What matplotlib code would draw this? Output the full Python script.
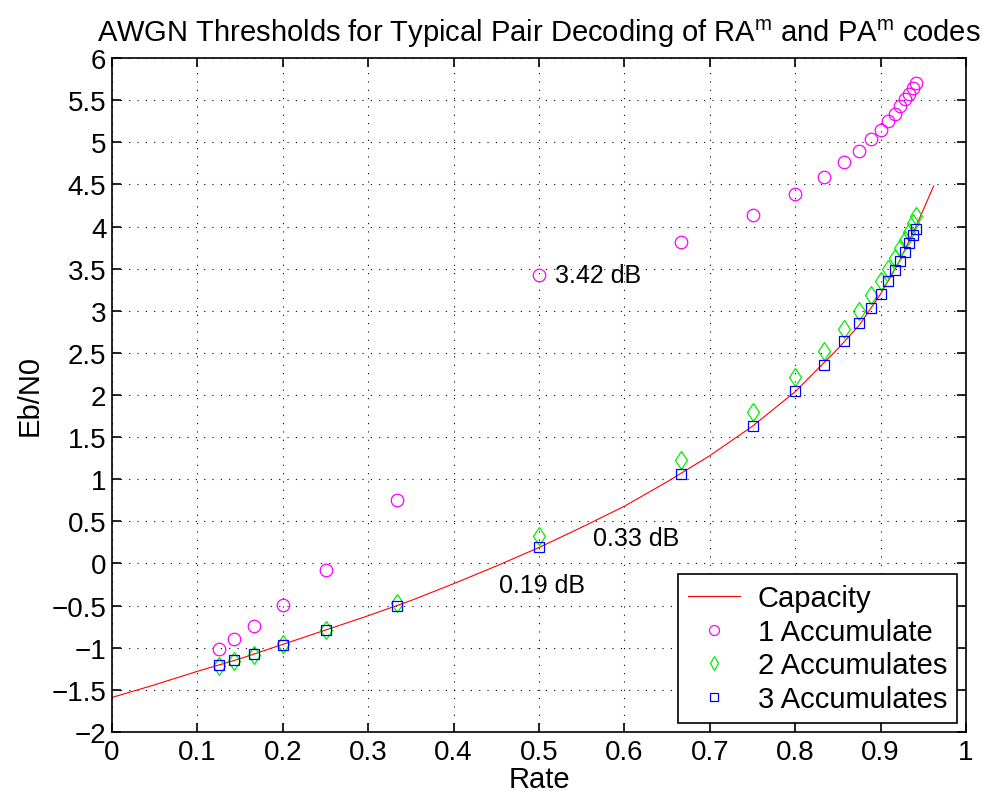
import matplotlib
matplotlib.use("Agg")
import matplotlib.pyplot as plt

plt.rcParams['font.family'] = ['Liberation Sans', 'DejaVu Sans']

rates = [1/8, 1/7, 1/6, 1/5, 1/4, 1/3, 1/2, 2/3, 3/4, 4/5, 5/6, 6/7, 7/8, 8/9,
         9/10, 10/11, 11/12, 12/13, 13/14, 14/15, 15/16, 16/17]
acc1 = [-1.02, -0.90, -0.74, -0.49, -0.08, 0.75, 3.42, 3.82, 4.14, 4.39, 4.59,
        4.76, 4.90, 5.04, 5.15, 5.25, 5.34, 5.43, 5.51, 5.57, 5.64, 5.70]
acc2 = [-1.22, -1.16, -1.09, -0.96, -0.79, -0.47, 0.33, 1.23, 1.80, 2.21, 2.52,
        2.78, 3.00, 3.19, 3.35, 3.50, 3.63, 3.74, 3.84, 3.94, 4.04, 4.13]
acc3 = [-1.21, -1.15, -1.08, -0.97, -0.79, -0.50, 0.19, 1.06, 1.63, 2.05, 2.36,
        2.64, 2.85, 3.03, 3.20, 3.35, 3.48, 3.59, 3.70, 3.80, 3.90, 3.97]

cap_rate = [0.0, 0.05, 0.1, 0.15, 0.2, 0.25, 0.3, 0.35, 0.4, 0.45, 0.5, 0.55,
            0.6, 0.65, 0.7, 0.75, 0.8, 0.85, 0.875, 0.9, 0.92, 0.94, 0.95, 0.962]
cap_ebn0 = [-1.59, -1.44, -1.28, -1.13, -0.96, -0.79, -0.62, -0.44, -0.24, -0.03,
            0.19, 0.43, 0.68, 0.97, 1.28, 1.63, 2.04, 2.55, 2.83, 3.20, 3.55,
            3.97, 4.20, 4.48]

annotations = [(0.519, 3.42, '3.42 dB'), (0.563, 0.30, '0.33 dB'), (0.453, -0.26, '0.19 dB')]

xtick_vals = [0, 0.1, 0.2, 0.3, 0.4, 0.5, 0.6, 0.7, 0.8, 0.9, 1]
xtick_labels = ['0', '0.1', '0.2', '0.3', '0.4', '0.5', '0.6', '0.7', '0.8', '0.9', '1']
ytick_vals = [-2, -1.5, -1, -0.5, 0, 0.5, 1, 1.5, 2, 2.5, 3, 3.5, 4, 4.5, 5, 5.5, 6]
ytick_labels = ['\u22122', '\u22121.5', '\u22121', '\u22120.5', '0', '0.5', '1', '1.5', '2',
                '2.5', '3', '3.5', '4', '4.5', '5', '5.5', '6']

fig = plt.figure(figsize=(9.95, 8.03), dpi=100)
ax = fig.add_axes([0.1126, 0.0872, 0.8583, 0.8393])

ax.plot(cap_rate, cap_ebn0, color='red', lw=0.8, label='Capacity')
ax.plot(rates, acc1, 'o', mfc='none', mec='magenta', ms=9, mew=0.9, label='1 Accumulate')
ax.plot(rates, acc2, 'd', mfc='none', mec='#00ee00', ms=9.5, mew=0.9, label='2 Accumulates')
ax.plot(rates, acc3, 's', mfc='none', mec='blue', ms=7.5, mew=0.9, label='3 Accumulates')

for x, y, t in annotations:
    ax.text(x, y, t, fontsize=18, va='center', ha='left')

ax.set_xlim(0, 1)
ax.set_ylim(-2, 6)
ax.set_xticks(xtick_vals)
ax.set_xticklabels(xtick_labels)
ax.set_yticks(ytick_vals)
ax.set_yticklabels(ytick_labels)
ax.tick_params(direction='in', top=True, right=True, labelsize=20, length=6.5, width=1.2)
ax.tick_params(axis='x', pad=5)
ax.tick_params(axis='y', pad=4)
ax.grid(True, color='black', linestyle=(0, (1, 6.5)), linewidth=0.8)
for s in ax.spines.values():
    s.set_linewidth(1.2)

ax.set_xlabel('Rate', fontsize=21, labelpad=0)
ax.set_ylabel('Eb/N0', fontsize=21, labelpad=6)
ax.set_title('AWGN Thresholds for Typical Pair Decoding of RA$^\\mathregular{m}$ and PA$^\\mathregular{m}$ codes',
             fontsize=21, pad=12)

leg = ax.legend(loc='lower right', fontsize=21, fancybox=False, edgecolor='black',
                framealpha=1, borderpad=0.35, labelspacing=0.19, handlelength=1.8,
                handletextpad=0.6, borderaxespad=0.3, markerscale=0.8)
leg.get_frame().set_linewidth(1.2)

fig.savefig('out.png', dpi=100)
